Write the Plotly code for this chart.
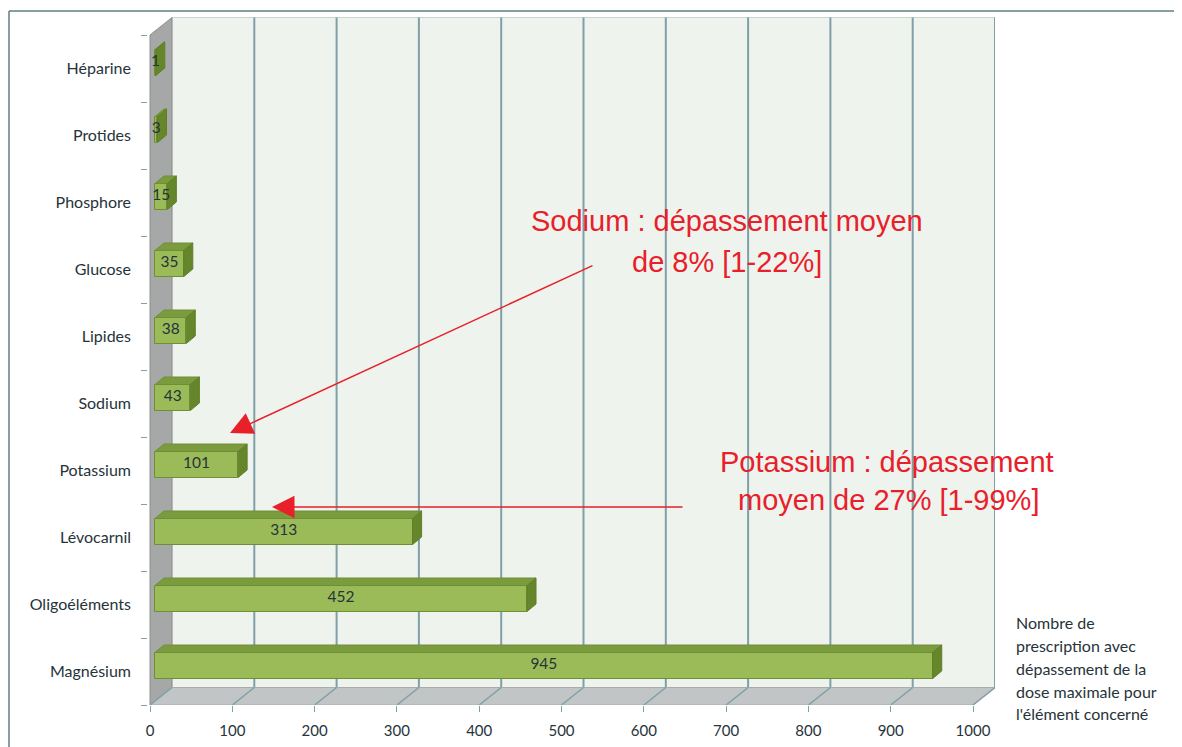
import plotly.graph_objects as go

# data (bottom to top)
categories = ["Magnésium", "Oligoéléments", "Lévocarnil", "Potassium", "Sodium",
              "Lipides", "Glucose", "Phosphore", "Protides", "Héparine"]
counts = [945, 452, 313, 101, 43, 38, 35, 15, 3, 1]
x_ticks = [0, 100, 200, 300, 400, 500, 600, 700, 800, 900, 1000]

axis_note = ["Nombre de", "prescription avec", "dépassement de la",
             "dose maximale pour", "l'élément concerné"]
sodium_note = ["Sodium : dépassement moyen", "de 8% [1-22%]"]
potassium_note = ["Potassium : dépassement", "moyen de 27% [1-99%]"]

# the page body has an 8px margin, so the figure is shifted by that much
OFF = 8
W, H = 1182 - OFF, 747 - OFF
FONT = "Lato, 'Open Sans', sans-serif"
TXT = "#27333a"
RED = "#e8202a"
GRID = "#7fa0a8"

# pixel geometry of the pseudo 3D box (pixels of the 1182x747 window)
PX_X = 0.823          # pixels per count unit
PX_Y = 67.0           # pixels per category
X0_PX = 150           # pixel of value 0 on the front edge
L_PX, R_PX, T_PX, B_PX = 148, 995, 12, 705

DX = 22 / PX_X        # depth offset of the box
DY = 17.5 / PX_Y
BX0 = 5 / PX_X        # bars sit a bit inside the box
BY = 6 / PX_Y
BH = 26 / PX_Y
BDX = 9 / PX_X        # bar depth
BDY = 7.5 / PX_Y

x_range = [(L_PX - X0_PX) / PX_X, (R_PX - X0_PX) / PX_X]
y_range = [-0.5, -0.5 + (B_PX - T_PX) / PX_Y]
n = len(categories)
xmax = x_ticks[-1]


def px_to_x(px):
    return (px - X0_PX) / PX_X


def px_to_y(py):
    return -0.5 + (B_PX - py) / PX_Y


def paper_x(px):
    return (px - L_PX) / (R_PX - L_PX)


def paper_y(py):
    return (B_PX - py) / (B_PX - T_PX)


fig = go.Figure()

# front faces of the bars
ypos = [i + BY for i in range(n)]
fig.add_trace(go.Bar(
    orientation="h", x=counts, y=ypos, base=BX0, width=BH,
    marker=dict(color="#9bbb59", line=dict(color="#6f8f35", width=1)),
    hoverinfo="skip", showlegend=False))

# top and side faces
top_x, top_y, side_x, side_y = [], [], [], []
for yc, v in zip(ypos, counts):
    y1, y0 = yc + BH / 2, yc - BH / 2
    xe = BX0 + v
    top_x += [BX0, xe, xe + BDX, BX0 + BDX, BX0, None]
    top_y += [y1, y1, y1 + BDY, y1 + BDY, y1, None]
    side_x += [xe, xe, xe + BDX, xe + BDX, xe, None]
    side_y += [y0, y1, y1 + BDY, y0 + BDY, y0, None]
fig.add_trace(go.Scatter(x=top_x, y=top_y, fill="toself", mode="lines",
                         fillcolor="#7b9b3f", line=dict(color="#6f8f35", width=1),
                         hoverinfo="skip", showlegend=False))
fig.add_trace(go.Scatter(x=side_x, y=side_y, fill="toself", mode="lines",
                         fillcolor="#66862c", line=dict(color="#5f7f28", width=1),
                         hoverinfo="skip", showlegend=False))

# value labels
fig.add_trace(go.Scatter(
    x=[BX0 + v / 2 for v in counts], y=ypos, yaxis="y2",
    mode="text", text=[str(v) for v in counts],
    textfont=dict(family=FONT, size=15.5, color=TXT),
    hoverinfo="skip", showlegend=False))

shapes = []
# back wall
shapes.append(dict(type="rect", xref="x", yref="y", layer="below",
                   x0=DX, x1=xmax + DX, y0=-0.5 + DY, y1=n - 0.5 + DY,
                   fillcolor="#eff3ee", line=dict(color="#c9d5d5", width=1)))
# vertical gridlines on the back wall
for v in x_ticks[1:]:
    shapes.append(dict(type="line", xref="x", yref="y", layer="below",
                       x0=v + DX, x1=v + DX, y0=-0.5 + DY, y1=n - 0.5 + DY,
                       line=dict(color=GRID, width=2)))
# left wall
shapes.append(dict(type="path", xref="x", yref="y", layer="below",
                   path=f"M 0,-0.5 L 0,{n - 0.5} L {DX},{n - 0.5 + DY} L {DX},{-0.5 + DY} Z",
                   fillcolor="#a6a8a8", line=dict(color="#8c8e8e", width=1)))
# floor
shapes.append(dict(type="path", xref="x", yref="y", layer="below",
                   path=f"M 0,-0.5 L {xmax},-0.5 L {xmax + DX},{-0.5 + DY} L {DX},{-0.5 + DY} Z",
                   fillcolor="#c1c5c5", line=dict(color="#a9adad", width=1)))
for v in x_ticks:
    shapes.append(dict(type="line", xref="x", yref="y", layer="below",
                       x0=v, x1=v + DX, y0=-0.5, y1=-0.5 + DY,
                       line=dict(color=GRID, width=1.5)))
# outer frame
shapes.append(dict(type="line", xref="paper", yref="paper",
                   x0=paper_x(9), x1=paper_x(1182), y0=paper_y(11), y1=paper_y(11),
                   line=dict(color="#5f7f80", width=1.5)))
shapes.append(dict(type="line", xref="paper", yref="paper",
                   x0=paper_x(9), x1=paper_x(9), y0=paper_y(11), y1=paper_y(747),
                   line=dict(color="#5f7f80", width=1.5)))

annotations = []
# red call-outs
red_font = dict(family="Liberation Sans, Arial", size=29, color=RED)
for txt, cx, cy in zip(sodium_note, [727, 727], [221, 262]):
    annotations.append(dict(x=px_to_x(cx), y=px_to_y(cy), xref="x", yref="y",
                            text=txt, showarrow=False, font=red_font))
for txt, cx, cy in zip(potassium_note, [887, 888], [462, 500]):
    annotations.append(dict(x=px_to_x(cx), y=px_to_y(cy), xref="x", yref="y",
                            text=txt, showarrow=False, font=red_font))
# arrows
for (hx, hy), (tx, ty) in [((230, 433), (594, 265)), ((272, 507), (684, 507))]:
    annotations.append(dict(x=px_to_x(hx), y=px_to_y(hy), xref="x", yref="y",
                            ax=px_to_x(tx), ay=px_to_y(ty), axref="x", ayref="y",
                            text="", showarrow=True, arrowhead=2, arrowsize=3,
                            arrowwidth=1.5, arrowcolor=RED, standoff=0))
# axis note on the right
for k, line in enumerate(axis_note):
    annotations.append(dict(x=paper_x(1014), y=paper_y(622 + 23 * k),
                            xref="paper", yref="paper", xanchor="left", yanchor="middle",
                            text=line, showarrow=False,
                            font=dict(family=FONT, size=16, color=TXT)))

fig.update_layout(
    width=W, height=H,
    margin=dict(l=L_PX - OFF, r=W - (R_PX - OFF), t=T_PX - OFF, b=H - (B_PX - OFF)),
    paper_bgcolor="white", plot_bgcolor="rgba(0,0,0,0)",
    showlegend=False, bargap=0,
    shapes=shapes, annotations=annotations,
    xaxis=dict(range=x_range, tickvals=x_ticks, ticks="outside", ticklen=6,
               tickcolor=GRID, showgrid=False, zeroline=False, showline=False,
               ticklabelstandoff=6, tickfont=dict(family=FONT, size=15, color=TXT)),
    yaxis=dict(range=y_range, tickvals=[k - 0.5 for k in range(n + 1)],
               ticktext=[""] * (n + 1), ticks="outside", ticklen=6, tickcolor=GRID,
               showgrid=False, zeroline=False, showline=False),
    yaxis2=dict(range=y_range, overlaying="y", side="left", tickvals=list(range(n)),
                ticktext=categories, ticks="", showgrid=False, zeroline=False,
                showline=False, ticklabelstandoff=16,
                tickfont=dict(family=FONT, size=16, color=TXT)),
)

fig.write_html("out.html")
